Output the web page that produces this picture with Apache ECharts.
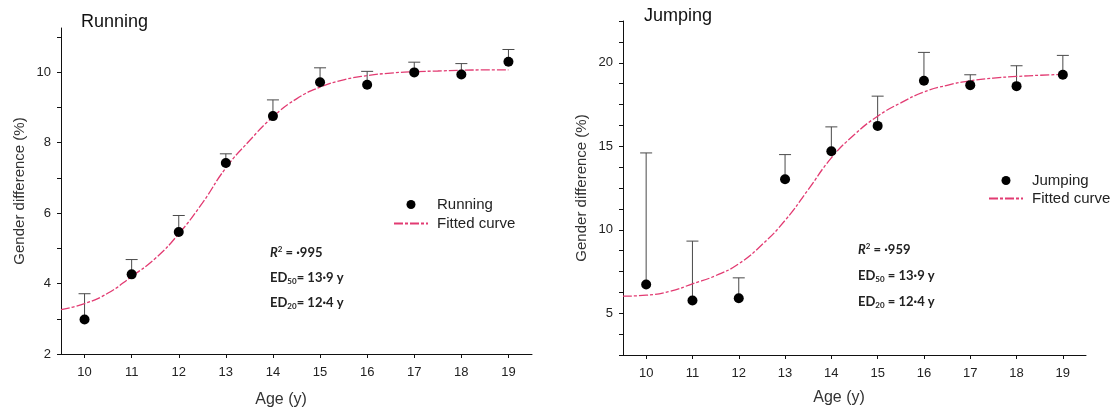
<!DOCTYPE html>
<html>
<head>
<meta charset="utf-8">
<script src="https://cdn.jsdelivr.net/npm/echarts@6/dist/echarts.min.js"></script>
<style>
  html, body { margin: 0; padding: 0; background: #fff; }
  #chart { width: 1115px; height: 413px; }
</style>
</head>
<body>
<div id="chart"></div>
<script>
// ages (x categories)
var ages = [10, 11, 12, 13, 14, 15, 16, 17, 18, 19];

// running: mean and top of error bar
var runMean = [2.98, 4.26, 5.46, 7.42, 8.75, 9.71, 9.64, 9.99, 9.93, 10.29];
var runUpper = [3.71, 4.68, 5.93, 7.68, 9.21, 10.12, 10.02, 10.28, 10.24, 10.64];

// jumping: mean and top of error bar
var jumpMean = [6.72, 5.76, 5.90, 13.02, 14.70, 16.22, 18.92, 18.66, 18.60, 19.28];
var jumpUpper = [14.60, 9.32, 7.12, 14.50, 16.16, 18.00, 20.62, 19.28, 19.82, 20.44];

// fitted curves
var fitAges = [9.5, 10, 10.5, 11, 11.5, 12, 12.5, 13, 13.5, 14, 14.5, 15, 15.5, 16, 16.5, 17, 17.5, 18, 18.5, 19];
var runFit = [3.26, 3.43, 3.73, 4.20, 4.71, 5.41, 6.28, 7.28, 8.05, 8.73, 9.24, 9.57, 9.78, 9.90, 9.97, 10.01, 10.03, 10.05, 10.06, 10.06];
var jumpFit = [6.02, 6.08, 6.30, 6.76, 7.25, 7.96, 9.10, 10.56, 12.40, 14.30, 15.70, 16.80, 17.60, 18.25, 18.65, 18.92, 19.08, 19.18, 19.25, 19.30];

// axis ticks and labels
var runTicks = [2, 3, 4, 5, 6, 7, 8, 9, 10, 11];
var runLabels = [2, 4, 6, 8, 10];
var jumpTicks = [2.5, 3.75, 5, 6.25, 7.5, 8.75, 10, 11.25, 12.5, 13.75, 15, 16.25, 17.5, 18.75, 20, 21.25, 22.5];
var jumpLabels = [5, 10, 15, 20];

// fit statistics text
var runStats = ['{ri|R}{sup|2}{b| = ·995}', '{b|ED}{sub|50}{b|= 13·9 y}', '{b|ED}{sub|20}{b|= 12·4 y}'];
var jumpStats = ['{ri|R}{sup|2}{b| = ·959}', '{b|ED}{sub|50}{b| = 13·9 y}', '{b|ED}{sub|20}{b| = 12·4 y}'];

var FONT = 'Liberation Sans';
var CURVE = '#e23b72';

function pairs(xs, ys) {
  return xs.map(function (x, i) { return [x, ys[i]]; });
}
function triples(xs, ys, tops) {
  return xs.map(function (x, i) { return [x, ys[i], tops[i]]; });
}

function renderErrorBar(params, api) {
  var lo = api.coord([api.value(0), api.value(1)]);
  var hi = api.coord([api.value(0), api.value(2)]);
  var st = { stroke: '#4a4a4a', lineWidth: 1 };
  return {
    type: 'group',
    children: [
      { type: 'line', shape: { x1: lo[0], y1: lo[1], x2: hi[0], y2: hi[1] }, style: st },
      { type: 'line', shape: { x1: hi[0] - 6, y1: hi[1], x2: hi[0] + 6, y2: hi[1] }, style: st }
    ]
  };
}

function xAxis(gridIndex, nameGap) {
  return {
    type: 'value', gridIndex: gridIndex, min: 9.5, max: 19.5,
    name: 'Age (y)', nameLocation: 'middle', nameGap: nameGap,
    nameTextStyle: { fontFamily: FONT, fontSize: 16, color: '#333', padding: [0, 31, 0, 0] },
    axisLine: { lineStyle: { color: '#111', width: 1 } },
    axisTick: { show: true, inside: false, length: 4, customValues: ages, lineStyle: { color: '#111' } },
    axisLabel: { customValues: ages, margin: 12, fontFamily: FONT, fontSize: 13, color: '#222' },
    splitLine: { show: false }
  };
}

function yAxis(gridIndex, min, max, ticks, labels) {
  return {
    type: 'value', gridIndex: gridIndex, min: min, max: max,
    name: 'Gender difference (%)', nameLocation: 'middle', nameGap: 34, nameRotate: 90,
    nameTextStyle: { fontFamily: FONT, fontSize: 15, color: '#333' },
    axisLine: { show: true, lineStyle: { color: '#111', width: 1 } },
    axisTick: { show: true, inside: false, length: 4, customValues: ticks, lineStyle: { color: '#111' } },
    axisLabel: { customValues: labels, margin: 10, fontFamily: FONT, fontSize: 13, color: '#222' },
    splitLine: { show: false }
  };
}

var richStyles = {
  ri: { fontFamily: 'Lato', fontWeight: 'bold', fontStyle: 'italic', fontSize: 13, lineHeight: 15, color: '#222' },
  b: { fontFamily: 'Lato', fontWeight: 'bold', fontSize: 13, lineHeight: 15, color: '#222' },
  sup: { fontFamily: 'Lato', fontWeight: 'bold', fontSize: 8, lineHeight: 9, color: '#222', verticalAlign: 'top' },
  sub: { fontFamily: 'Lato', fontWeight: 'bold', fontSize: 8, lineHeight: 9, color: '#222', verticalAlign: 'bottom' }
};

function statTitles(lines, left, top, step) {
  return lines.map(function (t, i) {
    return { text: t, left: left, top: top + i * step, padding: 0, textStyle: { lineHeight: 15, rich: richStyles } };
  });
}

var option = {
  backgroundColor: '#fff',
  animation: false,
  title: [
    { text: 'Running', left: 81, top: 13, padding: 0, textStyle: { fontFamily: FONT, fontSize: 18, fontWeight: 'normal', color: '#111' } },
    { text: 'Jumping', left: 644, top: 7, padding: 0, textStyle: { fontFamily: FONT, fontSize: 18, fontWeight: 'normal', color: '#111' } }
  ].concat(statTitles(runStats, 270, 245, 25), statTitles(jumpStats, 858, 242, 26)),
  legend: [
    {
      data: ['Running', { name: 'Fitted curve', itemStyle: { opacity: 0 } }],
      orient: 'vertical', left: 393, top: 197, padding: 0,
      itemWidth: 34, itemHeight: 9, itemGap: 4,
      textStyle: { fontFamily: FONT, fontSize: 15, color: '#222', padding: [0, 0, 0, 4] }
    },
    {
      data: ['Jumping', { name: 'Fitted curve', itemStyle: { opacity: 0 } }],
      orient: 'vertical', left: 988, top: 173, padding: 0,
      itemWidth: 34, itemHeight: 9, itemGap: 3,
      textStyle: { fontFamily: FONT, fontSize: 15, color: '#222', padding: [0, 0, 0, 4] }
    }
  ],
  grid: [
    { left: 61, top: 28, width: 471, height: 330 },
    { left: 623, top: 21, width: 463, height: 334 }
  ],
  xAxis: [xAxis(0, 38), xAxis(1, 35)],
  yAxis: [
    yAxis(0, 2, 11.25, runTicks, runLabels),
    yAxis(1, 2.5, 22.5, jumpTicks, jumpLabels)
  ],
  series: [
    {
      type: 'custom', xAxisIndex: 0, yAxisIndex: 0, z: 1,
      renderItem: renderErrorBar, data: triples(ages, runMean, runUpper)
    },
    {
      name: 'Fitted curve', type: 'line', xAxisIndex: 0, yAxisIndex: 0, z: 2,
      smooth: true, symbol: 'none', color: CURVE,
      lineStyle: { color: CURVE, width: 1.3, type: [9, 2, 3, 2] },
      data: pairs(fitAges, runFit)
    },
    {
      name: 'Running', type: 'scatter', xAxisIndex: 0, yAxisIndex: 0, z: 3,
      symbol: 'circle', symbolSize: 10, itemStyle: { color: '#000', opacity: 1 },
      data: pairs(ages, runMean)
    },
    {
      type: 'custom', xAxisIndex: 1, yAxisIndex: 1, z: 1,
      renderItem: renderErrorBar, data: triples(ages, jumpMean, jumpUpper)
    },
    {
      name: 'Fitted curve', type: 'line', xAxisIndex: 1, yAxisIndex: 1, z: 2,
      smooth: true, symbol: 'none', color: CURVE,
      lineStyle: { color: CURVE, width: 1.3, type: [9, 2, 3, 2] },
      data: pairs(fitAges, jumpFit)
    },
    {
      name: 'Jumping', type: 'scatter', xAxisIndex: 1, yAxisIndex: 1, z: 3,
      symbol: 'circle', symbolSize: 10, itemStyle: { color: '#000', opacity: 1 },
      data: pairs(ages, jumpMean)
    }
  ]
};

var chart = echarts.init(document.getElementById('chart'));
chart.setOption(option);
</script>
</body>
</html>
